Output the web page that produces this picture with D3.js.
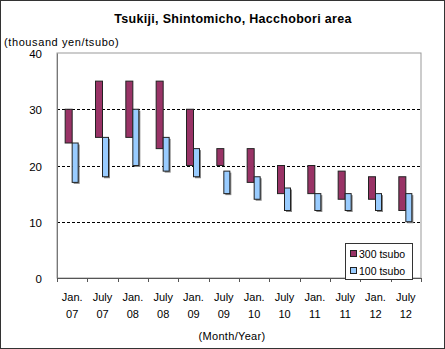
<!DOCTYPE html>
<html><head><meta charset="utf-8">
<script src="https://cdn.jsdelivr.net/npm/d3@7"></script>
<style>body{margin:0;background:#fff}svg{display:block}text{font-family:"Liberation Sans",Arial,sans-serif;fill:#000}</style>
</head><body>
<script>
const categories = ["Jan.|07","July|07","Jan.|08","July|08","Jan.|09","July|09","Jan.|10","July|10","Jan.|11","July|11","Jan.|12","July|12"];
const high300 = [30,35,35,35,30,23,23,20,20,19,18,18];
const low300  = [24,25,25,23,20,20,17,15,15,14,14,12];
const high100 = [24,25,30,25,23,19,18,16,15,15,15,15];
const low100  = [17,18,20,19,18,15,14,12,12,12,12,10];
const yTicks = [0,10,20,30,40];
const seriesNames = ["300 tsubo","100 tsubo"];
const colors = ["#993366","#99CCFF"];

const W=445,H=349;
const svg=d3.select("body").append("svg").attr("width",W).attr("height",H);
svg.append("rect").attr("x",0.5).attr("y",0.5).attr("width",W-1).attr("height",H-1).attr("fill","#fff").attr("stroke","#333");

const L=57,R=421,T=53,B=278;
const x=d3.scaleBand().domain(categories).range([L,R]);
const y=d3.scaleLinear().domain([0,40]).range([B,T]);

// plot border
svg.append("rect").attr("x",L).attr("y",T).attr("width",R-L).attr("height",B-T).attr("fill","none").attr("stroke","#999");
// gridlines
svg.selectAll(".grid").data(yTicks.filter(d=>d>0&&d<40)).enter().append("line")
 .attr("x1",L).attr("x2",R).attr("y1",d=>Math.round(y(d))+0.5).attr("y2",d=>Math.round(y(d))+0.5)
 .attr("stroke","#000").attr("stroke-dasharray","3,2");

// axes
const ya=svg.append("g").attr("transform",`translate(${L},0)`).call(d3.axisLeft(y).tickValues(yTicks).tickSize(0).tickPadding(15));
ya.select(".domain").attr("stroke","#777");
ya.selectAll("text").style("font-size","11.5px").attr("dy","0.4em");
const xa=svg.append("g").attr("transform",`translate(0,${B})`).call(d3.axisBottom(x).tickSize(0).tickFormat(""));
xa.select(".domain").attr("stroke","#555");
// tick marks between categories
svg.selectAll(".xt").data(d3.range(categories.length+1)).enter().append("line")
 .attr("x1",i=>Math.round(L+i*x.step())+0.5).attr("x2",i=>Math.round(L+i*x.step())+0.5)
 .attr("y1",B).attr("y2",B+4).attr("stroke","#555");
// x labels
const xl=svg.append("g");
categories.forEach(c=>{
  const [a,b]=c.split("|");
  const cx=x(c)+x.bandwidth()/2;
  xl.append("text").attr("x",cx).attr("y",301).attr("text-anchor","middle").style("font-size","11px").text(a);
  xl.append("text").attr("x",cx).attr("y",318).attr("text-anchor","middle").style("font-size","11px").text(b);
});

const bw=7;
const g=svg.append("g");
categories.forEach((c,i)=>{
  const cx=x(c)+x.bandwidth()/2;
  g.append("rect").attr("x",cx+1.5).attr("y",y(high100[i])+1.5).attr("width",bw-1).attr("height",y(low100[i])-y(high100[i])).attr("fill","#888");
  g.append("rect").attr("x",cx-bw).attr("y",y(high300[i])).attr("width",bw).attr("height",y(low300[i])-y(high300[i]))
   .attr("fill",colors[0]).attr("stroke","#222").attr("stroke-width",1);
  g.append("rect").attr("x",cx).attr("y",y(high100[i])).attr("width",bw-1).attr("height",y(low100[i])-y(high100[i]))
   .attr("fill",colors[1]).attr("stroke","#222").attr("stroke-width",1);
});

// legend
const lg=svg.append("g");
lg.append("rect").attr("x",345.5).attr("y",243.5).attr("width",67).attr("height",36).attr("fill","#fff").attr("stroke","#333");
seriesNames.forEach((n,i)=>{
  lg.append("rect").attr("x",350.5).attr("y",250.5+i*17).attr("width",6).attr("height",6).attr("fill",colors[i]).attr("stroke","#222");
  lg.append("text").attr("x",359).attr("y",257.5+i*17).style("font-size","10.5px").text(n);
});

svg.append("text").attr("x",233).attr("y",23).attr("text-anchor","middle").style("font-size","12.5px").style("font-weight","bold").style("letter-spacing","0.3px").text("Tsukiji, Shintomicho, Hacchobori area");
svg.append("text").attr("x",4).attr("y",46).style("font-size","11px").style("letter-spacing","0.6px").text("(thousand yen/tsubo)");
svg.append("text").attr("x",232).attr("y",340).attr("text-anchor","middle").style("font-size","11px").style("letter-spacing","0.3px").text("(Month/Year)");
</script>
</body></html>
